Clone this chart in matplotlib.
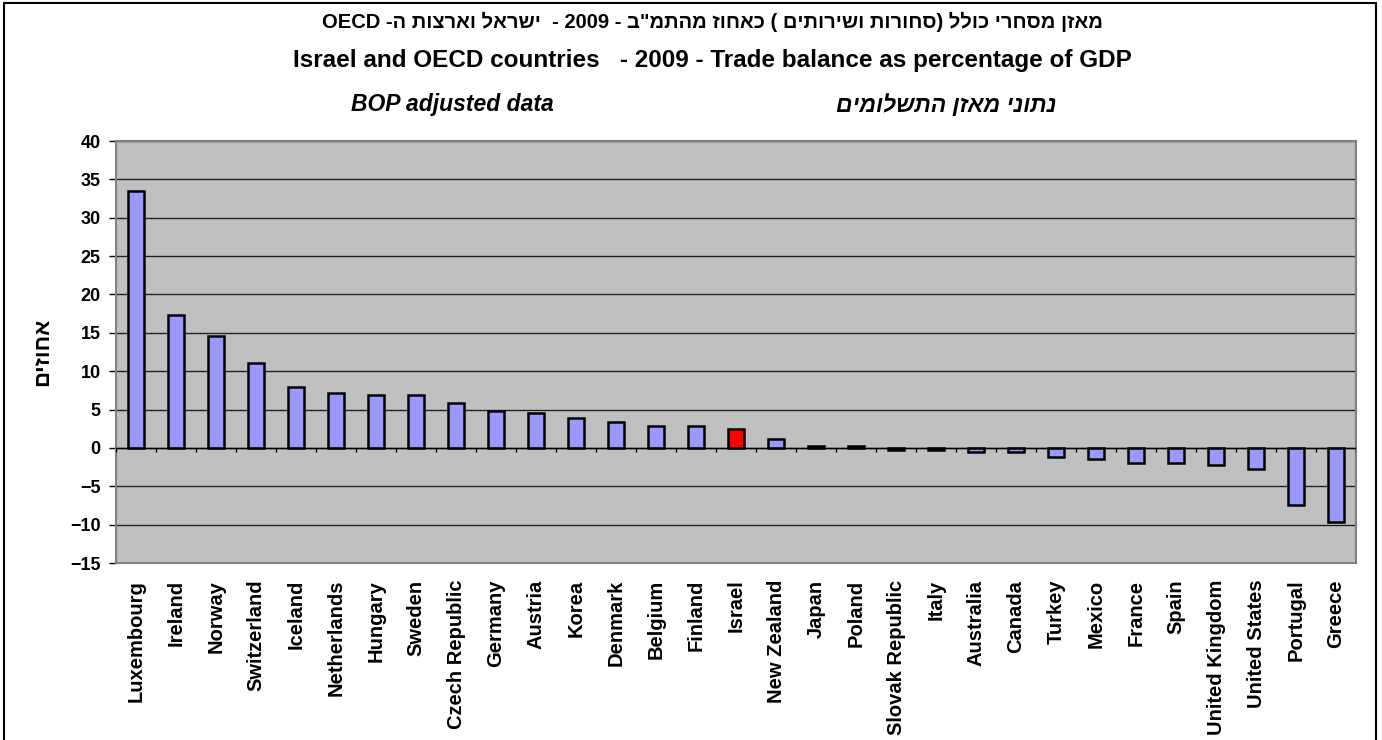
import matplotlib
matplotlib.use('Agg')
import matplotlib.pyplot as plt
from matplotlib.patches import Rectangle
import numpy as np

countries = ['Luxembourg', 'Ireland', 'Norway', 'Switzerland', 'Iceland', 'Netherlands',
             'Hungary', 'Sweden', 'Czech Republic', 'Germany', 'Austria', 'Korea',
             'Denmark', 'Belgium', 'Finland', 'Israel', 'New Zealand', 'Japan', 'Poland',
             'Slovak Republic', 'Italy', 'Australia', 'Canada', 'Turkey', 'Mexico',
             'France', 'Spain', 'United Kingdom', 'United States', 'Portugal', 'Greece']
values = [33.5, 17.3, 14.6, 11.1, 7.9, 7.2,
          6.95, 6.95, 5.8, 4.8, 4.55, 3.85,
          3.4, 2.9, 2.9, 2.4, 1.2, 0.3, 0.3,
          -0.3, -0.3, -0.5, -0.5, -1.2, -1.45,
          -1.95, -1.95, -2.2, -2.7, -7.5, -9.7]
highlight = 'Israel'
yticks = [-15, -10, -5, 0, 5, 10, 15, 20, 25, 30, 35, 40]

title_he = 'OECD -ה תוצראו לארשי  - 2009 - ב"מתהמ זוחאכ ( םיתורישו תורוחס) ללוכ ירחסמ ןזאמ'
title_en = 'Israel and OECD countries   - 2009 - Trade balance as percentage of GDP'
sub_en = 'BOP adjusted data'
sub_he = 'םימולשתה ןזאמ ינותנ'
ylabel = 'םיזוחא'

FONT = ['Liberation Sans', 'DejaVu Sans']
plt.rcParams['font.family'] = FONT

W, H = 1382, 740
fig = plt.figure(figsize=(W / 100, H / 100), dpi=100)
fig.patch.set_facecolor('white')

L, R, T, B = 116, 1356, 141, 563
ax = fig.add_axes([L / W, (H - B) / H, (R - L) / W, (B - T) / H])
ax.set_facecolor('#C0C0C0')

x = np.arange(len(countries))
colors = ['#FF0000' if c == highlight else '#9999FF' for c in countries]
ax.bar(x, values, width=0.42, color=colors, edgecolor='black', linewidth=1.8, zorder=3)

ax.set_xlim(-0.5, len(countries) - 0.5)
ax.set_ylim(min(yticks), max(yticks))
ax.set_yticks(yticks)
ax.yaxis.grid(True, color='#222222', linewidth=1.0)
ax.set_axisbelow(True)

# category axis at zero with boundary tick marks
ax.axhline(0, color='black', lw=1.0, zorder=4)
ax.vlines(np.arange(len(countries) + 1) - 0.5, -0.55, 0, color='black', lw=1.0, zorder=4)

for s in ax.spines.values():
    s.set_color('#808080')
    s.set_linewidth(1.5)

ax.set_xticks(x)
ax.set_xticklabels(countries, rotation=90, fontsize=14.5, fontweight='bold', va='top', ha='center')
ax.tick_params(axis='x', length=0, pad=12)
ax.tick_params(axis='y', direction='out', length=5, width=1, color='black', pad=6,
               labelsize=13)
for lab in ax.get_yticklabels():
    lab.set_fontweight('bold')

ax.set_ylabel(ylabel, fontsize=16, fontweight='bold', labelpad=12)

cx = 712 / W
fig.text(cx, 1 - 22 / H, title_he, ha='center', va='center', fontsize=14.5, fontweight='bold')
fig.text(cx, 1 - 61 / H, title_en, ha='center', va='center', fontsize=17.5, fontweight='bold')
fig.text(452 / W, 1 - 105 / H, sub_en, ha='center', va='center', fontsize=16.5,
         fontweight='bold', style='italic')
fig.text(946 / W, 1 - 105 / H, sub_he, ha='center', va='center', fontsize=16.5,
         fontweight='bold', style='italic')

fig.patches.append(Rectangle((4 / W, -0.02), (1376 - 4) / W, 1.02 - 3 / H,
                             transform=fig.transFigure, fill=False,
                             edgecolor='black', linewidth=1.5))

fig.savefig('out.png', dpi=100)
